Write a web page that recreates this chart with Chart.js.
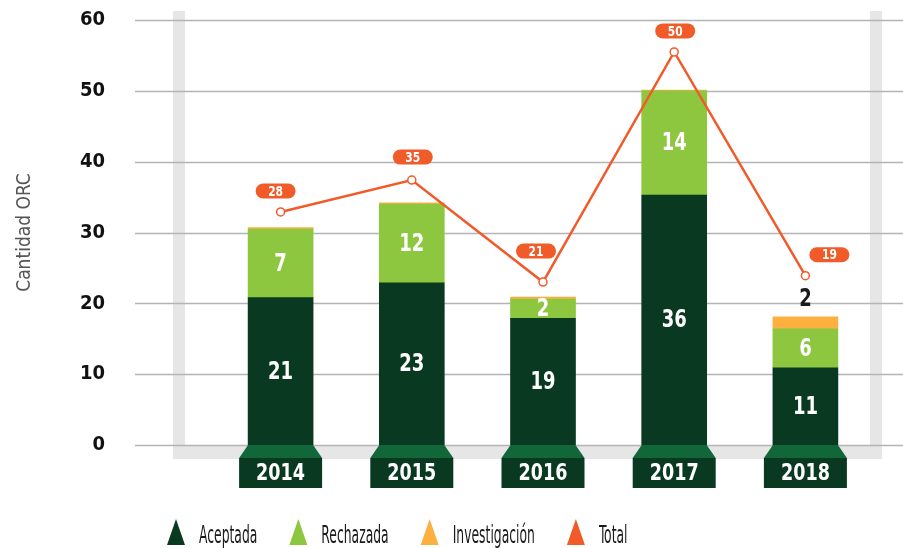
<!DOCTYPE html>
<html>
<head>
<meta charset="utf-8">
<script src="https://cdn.jsdelivr.net/npm/chart.js@4.4.1/dist/chart.umd.min.js"></script>
<style>
    html, body { margin: 0; padding: 0; background: #fff; }
    canvas { display: block; }
</style>
</head>
<body>
<canvas id="orcChart" width="903" height="548"></canvas>
<script>
// values
const years = ['2014', '2015', '2016', '2017', '2018'];
const aceptada = [20.8, 22.9, 17.9, 35.3, 10.9];
const rechazada = [9.7, 11.1, 2.7, 14.7, 5.5];
const investigacion = [0.2, 0.2, 0.3, 0.1, 1.7];
const total = [32.9, 37.4, 23.0, 55.5, 23.9];

// printed labels
const aceptadaLabels = ['21', '23', '19', '36', '11'];
const rechazadaLabels = ['7', '12', '2', '14', '6'];
const investigacionLabels = ['', '', '', '', '2'];
const totalLabels = ['28', '35', '21', '50', '19'];
const yTicks = [0, 10, 20, 30, 40, 50, 60];

const FONT = "'Liberation Sans Narrow', 'DejaVu Sans Condensed', sans-serif";
const DARK = '#093a21';
const CAP = '#11663a';
const LIGHT = '#8dc63f';
const AMBER = '#fbb040';
const RED = '#f15a29';

Chart.defaults.font.family = FONT;

// squeeze text horizontally, the original uses a very narrow face
function narrowText(ctx, text, x, y, sx) {
    ctx.save();
    ctx.translate(x, y);
    ctx.scale(sx, 1);
    ctx.fillText(text, 0, 0);
    ctx.restore();
}

// gray frame + grid lines behind the bars
const frameGrid = {
    id: 'frameGrid',
    beforeDatasetsDraw(chart) {
        const { ctx, chartArea: a, scales: { y } } = chart;
        ctx.save();
        ctx.fillStyle = '#e6e6e6';
        const top = a.top - 9, bottom = a.bottom + 14;
        ctx.fillRect(a.left - 42, top, 12, bottom - top);
        ctx.fillRect(a.right - 1, top, 12, bottom - top);
        ctx.fillRect(a.left - 42, a.bottom, a.right + 11 - (a.left - 42), 14);
        ctx.strokeStyle = '#b4b4b4';
        ctx.lineWidth = 1.3;
        y.ticks.forEach(t => {
            const py = Math.round(y.getPixelForValue(t.value)) + 0.5;
            ctx.beginPath();
            ctx.moveTo(a.left - 80, py);
            ctx.lineTo(chart.width, py);
            ctx.stroke();
        });
        ctx.restore();
    }
};

// year tabs, segment numbers, total pills, legend
const decorations = {
    id: 'decorations',
    afterDatasetsDraw(chart) {
        const { ctx, chartArea: a } = chart;
        ctx.save();
        ctx.textAlign = 'center';
        ctx.textBaseline = 'middle';

        const barMeta = chart.getDatasetMeta(0);
        barMeta.data.forEach((bar, i) => {
            const cx = bar.x;
            const half = bar.width / 2, wide = half + 9;
            const y0 = a.bottom, y1 = a.bottom + 13;
            ctx.fillStyle = CAP;
            ctx.beginPath();
            ctx.moveTo(cx - half, y0);
            ctx.lineTo(cx + half, y0);
            ctx.lineTo(cx + wide, y1);
            ctx.lineTo(cx - wide, y1);
            ctx.closePath();
            ctx.fill();
            ctx.fillStyle = DARK;
            ctx.fillRect(cx - wide, y1, wide * 2, 30);
            ctx.fillStyle = '#fff';
            ctx.font = 'bold 23px ' + FONT;
            narrowText(ctx, years[i], cx, y1 + 16, 0.85);
        });

        // numbers inside segments
        const segLabels = [aceptadaLabels, rechazadaLabels];
        segLabels.forEach((labels, d) => {
            chart.getDatasetMeta(d).data.forEach((el, i) => {
                if (!labels[i]) return;
                ctx.fillStyle = '#fff';
                ctx.font = 'bold 25px ' + FONT;
                narrowText(ctx, labels[i], el.x, (el.y + el.base) / 2 + 1, 0.8);
            });
        });
        chart.getDatasetMeta(2).data.forEach((el, i) => {
            if (!investigacionLabels[i]) return;
            ctx.fillStyle = '#1a1a1a';
            ctx.font = 'bold 25px ' + FONT;
            narrowText(ctx, investigacionLabels[i], el.x, el.y - 17, 0.8);
        });

        // pills over total line
        const shift = [[-5, -21], [1, -23], [-7, -31], [1, -21], [24, -21]];
        chart.getDatasetMeta(3).data.forEach((pt, i) => {
            const px = pt.x + shift[i][0], py = pt.y + shift[i][1];
            const w = 40, h = 15;
            ctx.fillStyle = RED;
            ctx.beginPath();
            ctx.roundRect(px - w / 2, py - h / 2, w, h, h / 2);
            ctx.fill();
            ctx.fillStyle = '#fff';
            ctx.font = 'bold 14px ' + FONT;
            narrowText(ctx, totalLabels[i], px, py + 1, 0.85);
        });
        ctx.restore();
    },
    afterDraw(chart) {
        const ctx = chart.ctx;
        const sx = 0.55;
        ctx.save();
        ctx.font = '25px ' + FONT;
        ctx.textBaseline = 'alphabetic';
        ctx.textAlign = 'left';
        let x = 167;
        const base = 543;
        chart.data.datasets.forEach(ds => {
            const color = ds.type === 'line' ? ds.borderColor : ds.backgroundColor;
            ctx.fillStyle = color;
            ctx.beginPath();
            ctx.moveTo(x + 9, base - 24);
            ctx.lineTo(x + 18, base + 2);
            ctx.lineTo(x, base + 2);
            ctx.closePath();
            ctx.fill();
            ctx.fillStyle = '#1a1a1a';
            narrowText(ctx, ds.label, x + 32, base, sx);
            x += 32 + ctx.measureText(ds.label).width * sx + 32;
        });
        ctx.restore();
    }
};

const ctx = document.getElementById('orcChart').getContext('2d');
new Chart(ctx, {
    type: 'bar',
    data: {
        labels: years,
        datasets: [
            { label: 'Aceptada', data: aceptada, backgroundColor: DARK, stack: 's', order: 1 },
            { label: 'Rechazada', data: rechazada, backgroundColor: LIGHT, stack: 's', order: 1 },
            { label: 'Investigación', data: investigacion, backgroundColor: AMBER, stack: 's', order: 1 },
            {
                type: 'line', label: 'Total', data: total, order: 0,
                borderColor: RED, backgroundColor: RED, borderWidth: 2.5, tension: 0,
                pointRadius: 4, pointBackgroundColor: '#fff', pointBorderColor: RED, pointBorderWidth: 1.5
            }
        ]
    },
    options: {
        responsive: false,
        animation: false,
        barThickness: 65,
        layout: { padding: { left: 10, right: 32, top: 20, bottom: 103 } },
        plugins: {
            legend: { display: false },
            tooltip: { enabled: false }
        },
        scales: {
            x: { display: false, stacked: true, offset: true },
            y: {
                stacked: true,
                min: 0,
                max: 60,
                afterBuildTicks: s => { s.ticks = yTicks.map(v => ({ value: v })); },
                afterFit: s => {
                    s.width = 205;
                    s.paddingTop = 10;
                    s.paddingBottom = 10;
                },
                grid: { display: false },
                border: { display: false },
                ticks: { color: '#111', padding: 102, font: { size: 20, weight: 'bold' } },
                title: {
                    display: true,
                    text: 'Cantidad ORC',
                    color: '#555',
                    padding: { top: 4, bottom: 0 },
                    font: { size: 19 }
                }
            }
        }
    },
    plugins: [frameGrid, decorations]
});
</script>
</body>
</html>
